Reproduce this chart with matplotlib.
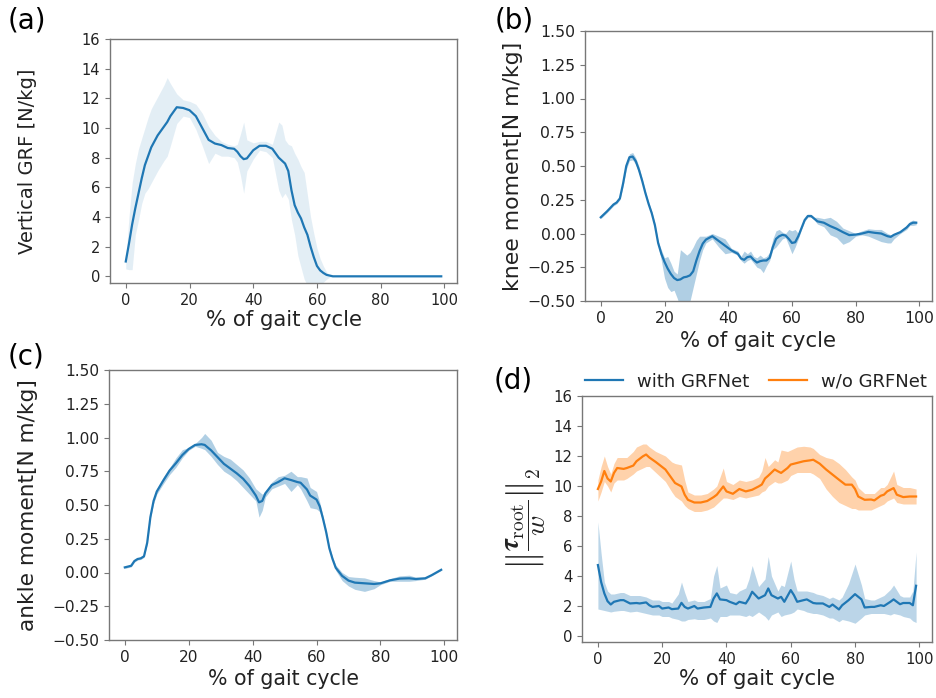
import matplotlib
matplotlib.use("Agg")
import matplotlib.pyplot as plt
import numpy as np

plt.rcParams['font.family'] = ['DejaVu Sans']
plt.rcParams['mathtext.fontset'] = 'cm'

# ---------------- (a) vertical GRF ----------------
a_x = [0, 1, 2, 3, 4, 5, 6, 7, 8, 10, 12, 13, 14, 16, 18, 20, 22, 24, 26, 28, 30, 32, 34, 35, 36, 37,
       38, 40, 42, 44, 46, 48, 49, 50, 51, 52, 53, 54, 55, 56, 57, 58, 59, 60, 61, 62, 63, 64, 65,
       70, 80, 90, 99]
a_mean = [1.0, 2.2, 3.5, 4.6, 5.6, 6.6, 7.5, 8.1, 8.7, 9.5, 10.1, 10.4, 10.8, 11.4, 11.35, 11.2, 10.8,
          10.0, 9.2, 8.95, 8.85, 8.65, 8.6, 8.4, 8.1, 7.9, 7.95, 8.5, 8.8, 8.8, 8.6, 8.0, 7.8, 7.6,
          7.1, 5.8, 4.8, 4.3, 3.9, 3.3, 2.8, 2.0, 1.3, 0.7, 0.4, 0.23, 0.1, 0.05, 0.0,
          0.0, 0.0, 0.0, 0.0]
a_lo = [0.5, 0.45, 0.45, 2.8, 3.8, 4.9, 5.6, 5.9, 6.3, 7.1, 7.8, 8.1, 8.8, 10.3, 10.8, 10.7, 9.9,
        8.8, 7.6, 8.3, 8.1, 8.1, 8.0, 7.7, 6.8, 5.6, 7.1, 7.9, 8.5, 8.4, 8.0, 5.8, 5.3, 5.6,
        5.2, 3.8, 2.8, 1.4, 0.6, -0.2, -0.6, -0.8, -0.8, -0.8, -0.6, -0.4, -0.2, -0.05, 0.0,
        0.0, 0.0, 0.0, 0.0]
a_hi = [1.1, 4.0, 6.3, 7.6, 8.6, 9.3, 10.0, 10.7, 11.3, 12.1, 12.9, 13.4, 13.0, 12.3, 11.9, 11.8, 11.6,
        11.0, 10.1, 9.5, 9.1, 8.9, 8.8, 8.9, 9.6, 10.4, 9.2, 9.0, 9.1, 9.1, 8.9, 10.4, 10.2, 9.2,
        8.9, 8.8, 8.3, 7.9, 7.4, 7.0, 5.5, 4.0, 2.9, 1.9, 1.2, 0.7, 0.3, 0.1, 0.0,
        0.0, 0.0, 0.0, 0.0]

# ---------------- (b) knee moment ----------------
b_x = [0, 2, 4, 5, 6, 7, 8, 9, 10, 11, 12, 13, 14, 15, 16, 17, 18, 19, 20, 21, 22, 23, 24, 25, 26,
       27, 28, 29, 30, 31, 32, 33, 35, 37, 39, 41, 43, 44, 45, 46, 47, 48, 49, 50, 51, 52, 53, 54,
       55, 56, 57, 58, 59, 60, 61, 62, 63, 64, 65, 66, 67, 68, 70, 72, 74, 76, 78, 80, 82, 84, 86,
       88, 90, 91, 92, 94, 96, 97, 98, 99]
b_mean = [0.12, 0.165, 0.215, 0.23, 0.26, 0.37, 0.5, 0.565, 0.57, 0.535, 0.47, 0.39, 0.3, 0.22, 0.15,
          0.06, -0.07, -0.15, -0.21, -0.26, -0.3, -0.33, -0.345, -0.34, -0.325, -0.32, -0.31, -0.28,
          -0.2, -0.13, -0.075, -0.045, -0.02, -0.055, -0.09, -0.125, -0.15, -0.185, -0.195, -0.175,
          -0.17, -0.195, -0.215, -0.205, -0.2, -0.2, -0.18, -0.1, -0.04, -0.02, -0.01, -0.015, -0.04,
          -0.07, -0.065, -0.02, 0.04, 0.1, 0.13, 0.13, 0.11, 0.09, 0.08, 0.055, 0.035, 0.01, -0.012,
          -0.008, 0.0, 0.012, 0.005, 0.0, -0.02, -0.025, -0.01, 0.01, 0.045, 0.07, 0.08, 0.08]
b_lo = [0.11, 0.155, 0.205, 0.22, 0.25, 0.35, 0.475, 0.54, 0.545, 0.51, 0.445, 0.375, 0.285, 0.205,
        0.135, 0.045, -0.085, -0.2, -0.33, -0.4, -0.43, -0.42, -0.48, -0.55, -0.55, -0.55, -0.5, -0.4,
        -0.3, -0.2, -0.12, -0.07, -0.04, -0.1, -0.15, -0.14, -0.16, -0.2, -0.22, -0.2, -0.19, -0.22,
        -0.25, -0.26, -0.29, -0.24, -0.2, -0.12, -0.1, -0.07, -0.04, -0.03, -0.09, -0.15, -0.1, -0.04,
        0.03, 0.09, 0.12, 0.12, 0.1, 0.07, 0.05, -0.01, -0.03, -0.08, -0.06, -0.02, -0.01, -0.02,
        -0.04, -0.06, -0.07, -0.07, -0.04, 0.0, 0.03, 0.06, 0.06, 0.065]
b_hi = [0.13, 0.175, 0.225, 0.24, 0.27, 0.39, 0.525, 0.59, 0.6, 0.56, 0.495, 0.405, 0.315, 0.235,
        0.165, 0.075, -0.055, -0.12, -0.18, -0.17, -0.22, -0.28, -0.3, -0.12, -0.14, -0.16, -0.14,
        -0.1, -0.05, -0.02, -0.02, -0.02, 0.0, -0.02, -0.04, -0.11, -0.13, -0.17, -0.13, -0.15, -0.13,
        -0.17, -0.18, -0.16, -0.18, -0.17, -0.14, -0.04, 0.02, 0.03, 0.01, 0.0, 0.03, 0.02, 0.03,
        0.0, 0.05, 0.11, 0.14, 0.14, 0.12, 0.12, 0.11, 0.12, 0.09, 0.04, 0.02, 0.0, 0.02, 0.035,
        0.03, 0.03, 0.0, -0.01, 0.0, 0.02, 0.06, 0.09, 0.1, 0.09]

# ---------------- (c) ankle moment ----------------
c_x = [0, 2, 3, 4, 5, 6, 7, 8, 9, 10, 12, 14, 16, 18, 20, 22, 24, 25, 27, 29, 31, 33, 35, 37, 39,
       41, 42, 43, 44, 46, 48, 50, 52, 54, 55, 57, 58, 60, 61, 62, 63, 64, 65, 66, 68, 70, 72, 75,
       78, 80, 83, 86, 89, 91, 94, 96, 99]
c_mean = [0.038, 0.05, 0.085, 0.1, 0.105, 0.12, 0.22, 0.41, 0.53, 0.6, 0.68, 0.755, 0.81, 0.87, 0.915,
          0.945, 0.95, 0.945, 0.905, 0.855, 0.805, 0.77, 0.735, 0.695, 0.64, 0.57, 0.52, 0.53, 0.587,
          0.648, 0.67, 0.698, 0.685, 0.67, 0.665, 0.615, 0.57, 0.54, 0.49, 0.4, 0.3, 0.18, 0.1, 0.035,
          -0.025, -0.06, -0.075, -0.08, -0.085, -0.08, -0.058, -0.045, -0.043, -0.048, -0.043, -0.02,
          0.02]
c_lo = [0.03, 0.042, 0.077, 0.092, 0.097, 0.112, 0.21, 0.4, 0.51, 0.58, 0.655, 0.725, 0.78, 0.85,
        0.905, 0.935, 0.92, 0.91, 0.86, 0.8, 0.75, 0.72, 0.68, 0.63, 0.58, 0.53, 0.41, 0.46, 0.56,
        0.62, 0.64, 0.66, 0.6, 0.65, 0.62, 0.53, 0.48, 0.47, 0.45, 0.38, 0.285, 0.165, 0.085, 0.015,
        -0.06, -0.1, -0.125, -0.14, -0.12, -0.09, -0.065, -0.065, -0.065, -0.06, -0.05, -0.025,
        0.015]
c_hi = [0.046, 0.058, 0.093, 0.108, 0.113, 0.128, 0.23, 0.42, 0.55, 0.62, 0.705, 0.775, 0.85, 0.91,
        0.925, 0.955, 1.0, 1.03, 0.98, 0.89, 0.86, 0.84, 0.8, 0.76, 0.7, 0.62, 0.6, 0.58, 0.6, 0.67,
        0.71, 0.72, 0.75, 0.71, 0.71, 0.7, 0.63, 0.6, 0.52, 0.42, 0.315, 0.195, 0.115, 0.055, 0.0,
        -0.03, -0.035, -0.04, -0.06, -0.07, -0.045, -0.025, -0.02, -0.035, -0.035, -0.015, 0.025]

# ---------------- (d) root residual ----------------
dw_x = [0, 1, 2, 3, 4, 5, 7, 8, 10, 12, 13, 15, 16, 17, 19, 20, 22, 23, 25, 26, 27, 28, 30, 31, 33,
        35, 36, 37, 38, 40, 41, 43, 44, 46, 47, 48, 50, 52, 53, 54, 56, 57, 58, 60, 61, 62, 64, 65,
        67, 68, 70, 72, 73, 75, 76, 78, 80, 82, 83, 85, 86, 88, 89, 91, 92, 94, 95, 97, 98, 99]
dw_mean = [4.73, 3.6, 2.84, 2.32, 2.1, 2.28, 2.39, 2.39, 2.17, 2.2, 2.17, 2.24, 2.05, 1.94, 2.0, 1.83,
           1.9, 1.79, 1.83, 2.21, 1.94, 1.83, 2.0, 1.83, 1.9, 1.94, 2.5, 2.84, 2.44, 2.39, 2.28, 2.12,
           2.28, 2.17, 2.5, 2.95, 2.5, 2.72, 3.17, 2.72, 2.5, 2.61, 2.28, 3.06, 2.72, 2.28, 2.39, 2.44,
           2.2, 2.17, 2.17, 1.94, 2.1, 1.77, 2.05, 2.39, 2.79, 2.44, 1.9, 1.94, 1.94, 2.05, 2.0, 2.28,
           2.44, 2.12, 2.2, 2.2, 2.05, 3.35]
dw_lo = [1.8, 1.75, 1.7, 1.65, 1.6, 1.65, 1.7, 1.7, 1.6, 1.65, 1.6, 1.5, 1.45, 1.4, 1.4, 1.3, 1.3, 1.2,
         1.1, 1.0, 1.0, 1.1, 1.15, 1.1, 1.1, 1.2, 1.0, 0.9, 1.3, 1.3, 1.4, 1.4, 1.4, 1.3, 1.4, 1.3, 1.6,
         1.3, 1.05, 1.4, 1.6, 1.3, 1.4, 1.5, 1.6, 1.8, 1.7, 1.6, 1.5, 1.5, 1.4, 1.2, 1.2, 0.95, 1.1,
         1.0, 0.85, 1.2, 1.4, 1.5, 1.5, 1.5, 1.5, 1.4, 1.5, 1.4, 1.3, 1.2, 1.0, 0.9]
dw_hi = [7.6, 5.5, 3.6, 3.0, 2.8, 2.8, 2.9, 2.9, 2.7, 2.7, 2.7, 2.6, 2.5, 2.4, 2.4, 2.3, 2.3, 2.2, 2.8,
         3.6, 2.9, 2.3, 2.4, 2.3, 2.3, 2.5, 4.0, 4.7, 3.2, 3.4, 2.9, 2.8, 3.0, 3.2, 3.8, 4.7, 3.3, 3.8,
         5.3, 4.0, 3.0, 3.4, 3.3, 5.0, 3.8, 3.0, 3.0, 3.0, 2.9, 2.8, 2.7, 2.5, 2.6, 2.4, 2.6, 3.5, 4.8,
         3.4, 2.5, 2.4, 2.4, 2.6, 2.7, 3.1, 3.4, 2.7, 2.6, 2.6, 3.0, 5.6]

do_x = [0, 1, 2, 3, 4, 5, 6, 8, 9, 11, 12, 14, 15, 16, 18, 21, 23, 24, 26, 27, 28, 30, 32, 34, 36, 37,
        39, 40, 42, 44, 46, 48, 50, 51, 52, 53, 55, 56, 57, 59, 60, 62, 64, 66, 67, 69, 71, 73, 75,
        77, 79, 80, 81, 83, 85, 86, 88, 89, 90, 92, 93, 95, 97, 99]
do_mean = [9.8, 10.3, 11.0, 10.5, 10.3, 10.87, 11.2, 11.14, 11.2, 11.36, 11.65, 11.98, 12.1, 11.9,
           11.6, 11.1, 10.5, 10.2, 9.97, 9.42, 9.08, 8.9, 8.9, 9.0, 9.26, 9.42, 9.97, 9.64, 9.48, 9.8,
           9.64, 9.75, 9.97, 10.1, 10.5, 10.69, 11.1, 10.98, 10.87, 11.2, 11.43, 11.54, 11.65, 11.71,
           11.75, 11.49, 11.1, 10.76, 10.42, 10.09, 10.09, 9.8, 9.3, 9.08, 9.1, 9.04, 9.35, 9.42, 9.64,
           9.86, 9.42, 9.26, 9.3, 9.3]
do_lo = [9.0, 9.6, 10.3, 10.0, 9.6, 10.2, 10.4, 10.4, 10.5, 10.8, 11.0, 11.2, 11.3, 11.3, 10.9, 10.3,
         9.6, 9.3, 9.0, 8.7, 8.5, 8.3, 8.3, 8.4, 8.6, 8.8, 9.2, 9.2, 9.1, 9.3, 9.2, 9.3, 9.4, 9.6, 9.7,
         10.0, 10.3, 10.2, 10.2, 10.4, 10.7, 10.9, 10.9, 10.9, 10.8, 10.5, 9.8, 9.3, 8.9, 8.7, 8.5,
         8.5, 8.4, 8.4, 8.4, 8.5, 8.7, 8.8, 9.0, 9.2, 8.9, 8.8, 8.8, 8.8]
do_hi = [10.4, 11.3, 12.0, 11.3, 10.8, 11.5, 11.9, 11.9, 11.9, 12.3, 12.6, 12.8, 12.8, 12.6, 12.3,
         12.0, 11.6, 11.5, 11.4, 10.4, 9.6, 9.4, 9.4, 9.5, 9.8, 10.0, 11.2, 10.3, 10.1, 10.4, 10.3,
         10.4, 10.6, 11.0, 11.9, 11.3, 11.75, 11.6, 12.4, 12.3, 12.4, 12.6, 12.65, 12.6, 12.5, 12.1,
         11.9, 11.8, 11.5, 11.1, 10.6, 10.4, 9.9, 9.5, 9.5, 9.5, 9.9, 9.9, 10.1, 11.0, 10.1, 9.9, 9.9,
         9.8]

legend_labels = ["with GRFNet", "w/o GRFNet"]
xlabel = "% of gait cycle"
panel_tags = ["(a)", "(b)", "(c)", "(d)"]

BLUE = "#1f77b4"
ORANGE = "#ff7f0e"
TXT = "#222222"
SPINE = "#777777"

W, H = 936, 698
fig = plt.figure(figsize=(W / 100, H / 100), dpi=100)


def px_axes(l, t, r, b):
    return fig.add_axes([l / W, 1 - b / H, (r - l) / W, (b - t) / H])


def style(ax, tsize):
    for s in ax.spines.values():
        s.set_color(SPINE)
        s.set_linewidth(1.0)
    ax.tick_params(labelsize=tsize, colors=TXT, length=3.5, width=0.8)
    ax.tick_params(color=SPINE)
    ax.set_xticks([0, 20, 40, 60, 80, 100])


fmt2 = matplotlib.ticker.FuncFormatter(
    lambda v, p: ("\u2212" if v < -1e-9 else "") + "%.2f" % abs(v))

# (a)
axa = px_axes(110, 39, 457, 283)
axa.fill_between(a_x, a_lo, a_hi, color=BLUE, alpha=0.12, linewidth=0)
axa.plot(a_x, a_mean, color=BLUE, lw=1.6)
axa.set_xlim(-4.95, 103.95)
axa.set_ylim(-0.45, 16)
axa.set_yticks(np.arange(0, 17, 2))
style(axa, 10.5)
axa.set_ylabel("Vertical GRF [N/kg]", fontsize=14, color=TXT)
axa.yaxis.set_label_coords(-0.21, 0.5)
axa.set_xlabel(xlabel, fontsize=15.3, color=TXT)
axa.xaxis.set_label_coords(0.5, -0.11)

# (b)
axb = px_axes(585, 31, 932, 301)
axb.fill_between(b_x, b_lo, b_hi, color=BLUE, alpha=0.35, linewidth=0)
axb.plot(b_x, b_mean, color=BLUE, lw=1.6)
axb.set_xlim(-4.95, 103.95)
axb.set_ylim(-0.5, 1.5)
axb.set_yticks(np.arange(-0.5, 1.51, 0.25))
axb.yaxis.set_major_formatter(fmt2)
style(axb, 11.3)
axb.set_ylabel("knee moment[N m/kg]", fontsize=15.8, color=TXT)
axb.yaxis.set_label_coords(-0.18, 0.5)
axb.set_xlabel(xlabel, fontsize=15.3, color=TXT)
axb.xaxis.set_label_coords(0.5, -0.112)

# (c)
axc = px_axes(109, 370, 457, 640)
axc.fill_between(c_x, c_lo, c_hi, color=BLUE, alpha=0.35, linewidth=0)
axc.plot(c_x, c_mean, color=BLUE, lw=1.6)
axc.set_xlim(-4.95, 103.95)
axc.set_ylim(-0.5, 1.5)
axc.set_yticks(np.arange(-0.5, 1.51, 0.25))
axc.yaxis.set_major_formatter(fmt2)
style(axc, 11.1)
axc.set_ylabel("ankle moment[N m/kg]", fontsize=15.6, color=TXT)
axc.yaxis.set_label_coords(-0.205, 0.5)
axc.set_xlabel(xlabel, fontsize=14.8, color=TXT)
axc.xaxis.set_label_coords(0.5, -0.108)

# (d)
axd = px_axes(582, 396, 932, 642)
axd.fill_between(dw_x, dw_lo, dw_hi, color=BLUE, alpha=0.3, linewidth=0)
axd.plot(dw_x, dw_mean, color=BLUE, lw=1.6, label=legend_labels[0])
axd.fill_between(do_x, do_lo, do_hi, color=ORANGE, alpha=0.35, linewidth=0)
axd.plot(do_x, do_mean, color=ORANGE, lw=1.6, label=legend_labels[1])
axd.set_xlim(-4.95, 103.95)
axd.set_ylim(-0.4, 16)
axd.set_yticks(np.arange(0, 17, 2))
style(axd, 10.7)
axd.set_ylabel(r"$\left\Vert\dfrac{\boldsymbol{\tau}_{\mathrm{root}}}{w}\right\Vert_2$",
               fontsize=20, color=TXT)
axd.yaxis.set_label_coords(-0.1, 0.5)
axd.set_xlabel(xlabel, fontsize=15.3, color=TXT)
axd.xaxis.set_label_coords(0.5, -0.108)
leg = axd.legend(loc="center", bbox_to_anchor=(0.497, 1.058), ncol=2, frameon=False,
                 fontsize=13, handlelength=2.1, handletextpad=0.8, columnspacing=1.07,
                 borderpad=0)
for t in leg.get_texts():
    t.set_color(TXT)

# panel tags
fig.text(8 / W, 1 - 20 / H, panel_tags[0], fontsize=20, va="center", ha="left", color="black")
fig.text(495 / W, 1 - 20 / H, panel_tags[1], fontsize=20, va="center", ha="left", color="black")
fig.text(8 / W, 1 - 356 / H, panel_tags[2], fontsize=20, va="center", ha="left", color="black")
fig.text(494 / W, 1 - 380 / H, panel_tags[3], fontsize=20, va="center", ha="left", color="black")

fig.savefig("out.png", dpi=100)
